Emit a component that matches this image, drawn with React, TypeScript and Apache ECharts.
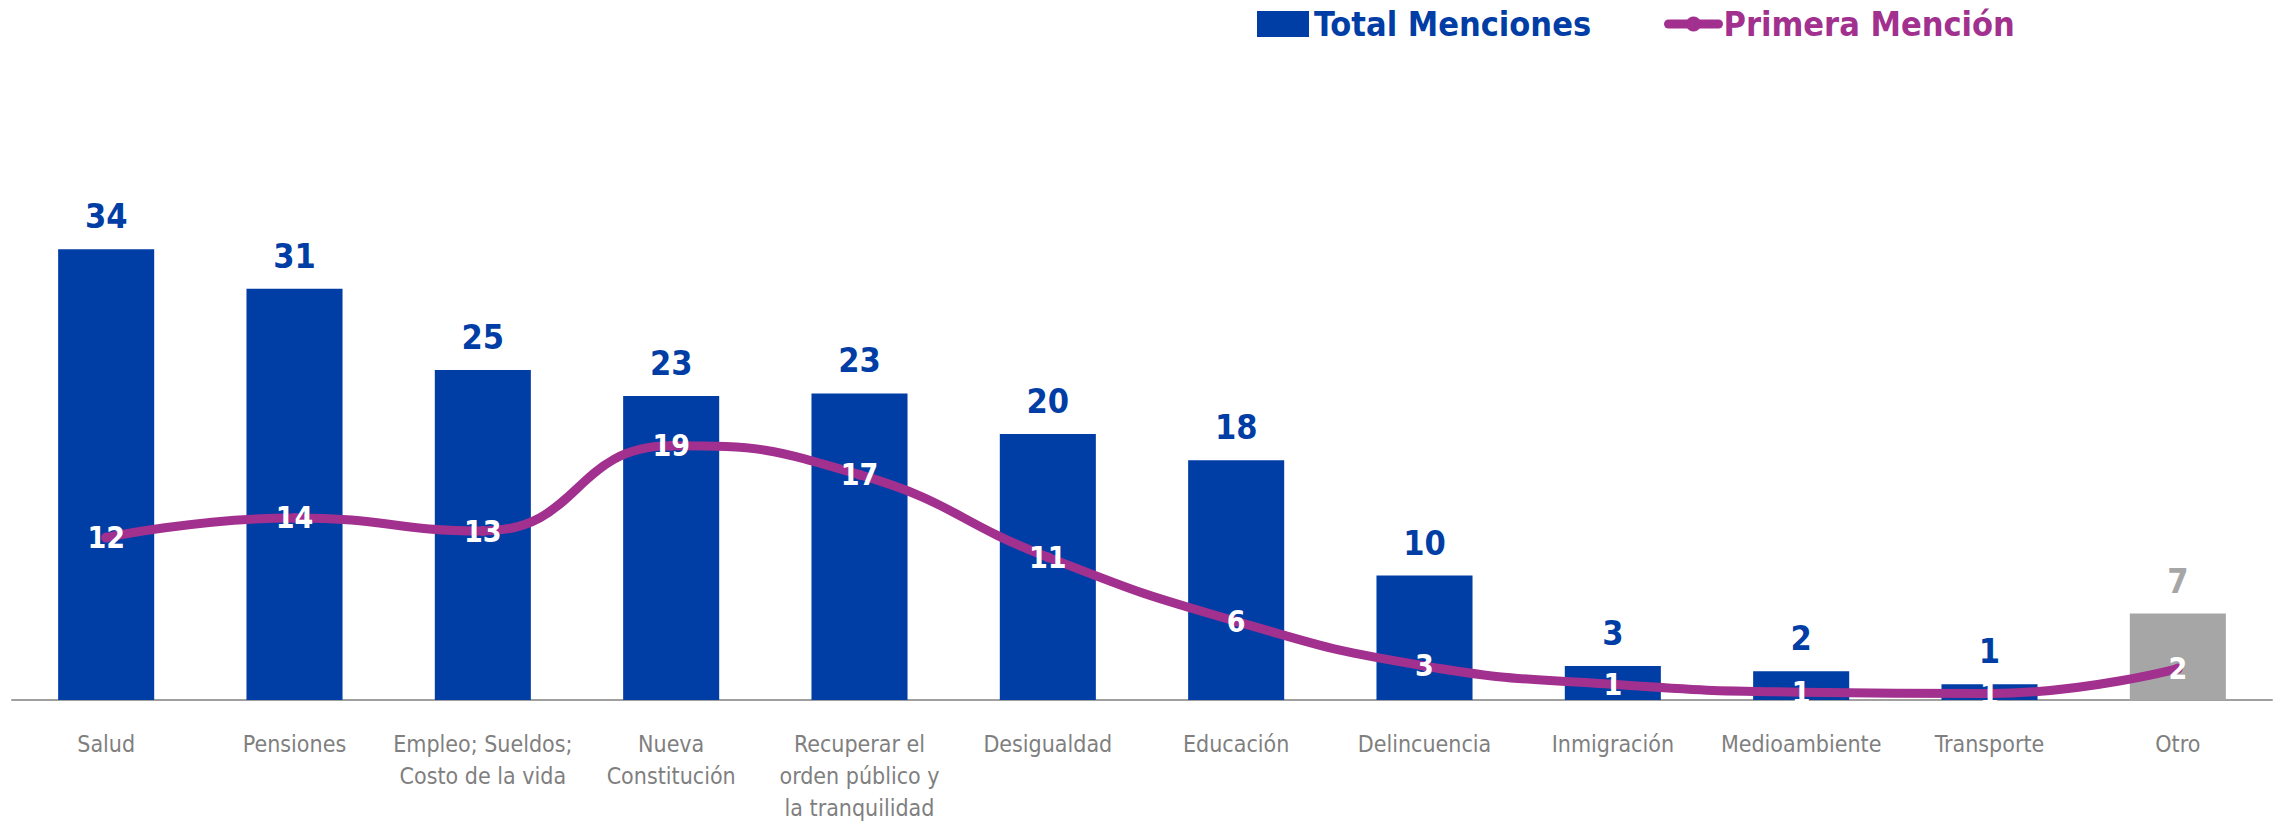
import React, { useEffect, useRef } from "react";
import * as echarts from "echarts";

const categories = [
  "Salud",
  "Pensiones",
  "Empleo; Sueldos;\nCosto de la vida",
  "Nueva\nConstitución",
  "Recuperar el\norden público y\nla tranquilidad",
  "Desigualdad",
  "Educación",
  "Delincuencia",
  "Inmigración",
  "Medioambiente",
  "Transporte",
  "Otro",
];
// estimated underlying percentages (labels show them rounded)
const totalMenciones = [34.4, 31.4, 25.2, 23.2, 23.4, 20.3, 18.3, 9.5, 2.6, 2.2, 1.2, 6.6];
const primeraMencion = [12.4, 13.9, 12.9, 19.4, 17.2, 10.9, 6.0, 2.6, 1.2, 0.6, 0.5, 2.4];
const highlightCategory = "Otro";

const BLUE = "#003DA5";
const PURPLE = "#A2308F";
const GRAY = "#A6A6A6";
const FONT = "'DejaVu Sans Condensed', 'Liberation Sans Narrow', 'DejaVu Sans', sans-serif";

const roundLabel = (p: any) => String(Math.round(Number(p.value)));

export default function App() {
  const ref = useRef<HTMLDivElement>(null);
  useEffect(() => {
    document.body.style.margin = "0";
    if (!ref.current) return;
    const chart = echarts.init(ref.current, undefined, { renderer: "svg" });
    const barData = totalMenciones.map((v, i) =>
      categories[i] === highlightCategory
        ? { value: v, itemStyle: { color: GRAY }, label: { color: GRAY } }
        : v
    );
    chart.setOption({
      animation: false,
      backgroundColor: "#fff",
      textStyle: { fontFamily: FONT },
      legend: [
        {
          data: ["Total Menciones"],
          left: 1257,
          top: 7,
          padding: 0,
          itemWidth: 52,
          itemHeight: 26,
          itemGap: 0,
          icon: "rect",
          textStyle: { color: BLUE, fontSize: 34, fontWeight: "bold", fontFamily: FONT },
        },
        {
          data: ["Primera Mención"],
          left: 1664,
          top: 7,
          padding: 0,
          itemWidth: 50,
          itemHeight: 19,
          lineStyle: { width: 9, cap: "round" },
          textStyle: { color: PURPLE, fontSize: 34, fontWeight: "bold", fontFamily: FONT },
        },
      ],
      grid: { left: 12, right: 12, top: 176, bottom: 125 },
      xAxis: {
        type: "category",
        data: categories,
        axisLine: { lineStyle: { color: "#A0A0A0", width: 2 } },
        axisTick: { length: 9, lineStyle: { color: "#A0A0A0", width: 1.5 } },
        axisLabel: {
          color: "#7F7F7F",
          fontSize: 23,
          lineHeight: 32,
          margin: 28,
          interval: 0,
          fontFamily: FONT,
        },
      },
      yAxis: {
        type: "value",
        min: 0,
        max: 40,
        show: false,
        splitLine: { show: false },
      },
      series: [
        {
          name: "Total Menciones",
          type: "bar",
          data: barData,
          barWidth: "51%",
          itemStyle: { color: BLUE },
          label: {
            show: true,
            position: "top",
            distance: 16,
            color: BLUE,
            fontSize: 34,
            fontWeight: "bold",
            fontFamily: FONT,
            formatter: roundLabel,
          },
        },
        {
          name: "Primera Mención",
          type: "line",
          data: primeraMencion,
          smooth: 0.5,
          symbol: "circle",
          symbolSize: 10,
          itemStyle: { color: PURPLE },
          lineStyle: { color: PURPLE, width: 9 },
          label: {
            show: true,
            position: "inside",
            color: "#fff",
            fontSize: 30,
            fontWeight: "bold",
            fontFamily: FONT,
            formatter: roundLabel,
          },
        },
      ],
    });
    return () => chart.dispose();
  }, []);
  return <div ref={ref} style={{ width: 2284, height: 825 }} />;
}
